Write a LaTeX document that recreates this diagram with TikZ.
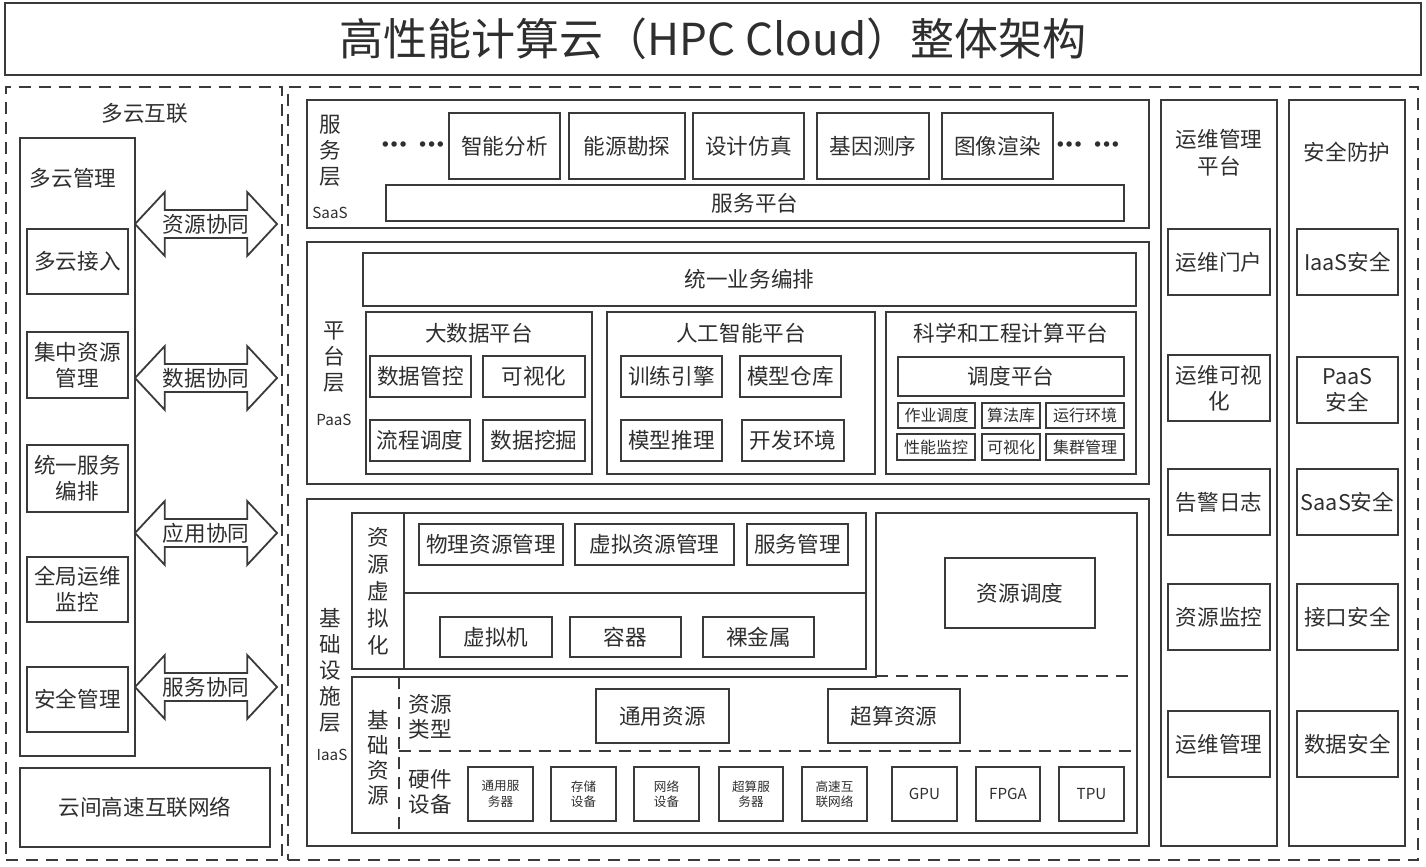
\documentclass[tikz,border=0pt]{standalone}
\usepackage{fontspec}
\setmainfont{Noto Sans CJK SC}
\usetikzlibrary{fit,shapes.arrows}
\definecolor{framecol}{HTML}{3A3A3A}
\definecolor{textcol}{HTML}{2E2E2E}
\newcommand{\tridots}{$\mathord{\bullet}\hspace{0.6pt}\mathord{\bullet}\hspace{0.6pt}\mathord{\bullet}$}

\begin{document}
\begin{tikzpicture}[x=0.5pt, y=-0.5pt,
	every node/.style={text=textcol, font=\fontsize{10.8}{13}\selectfont},
	box/.style={draw=framecol, line width=0.9pt, inner sep=0pt},
	dashbox/.style={draw=framecol, line width=0.9pt, dash pattern=on 6pt off 4pt, inner sep=0pt},
	txt/.style={align=center, inner sep=0pt},
	minitxt/.style={txt, font=\fontsize{8}{9.6}\selectfont},
	hwtxt/.style={txt, font=\fontsize{6.3}{7.6}\selectfont},
	chiptxt/.style={txt, font=\fontsize{7.6}{9}\selectfont},
	coop/.style={double arrow, draw=framecol, line width=0.9pt, inner sep=0pt,
		minimum height=71pt, minimum width=32pt, double arrow head extend=7pt,
		double arrow tip angle=94},
	vtext/.style={align=center, inner sep=0pt},
	tag/.style={inner sep=0pt, font=\fontsize{7.6}{9}\selectfont},
	dotrow/.style={inner sep=0pt, font=\fontsize{5.6}{6}\selectfont}
]
	\useasboundingbox (0,0) rectangle (1426,867);

	% title
	\node[box, fit={(5,3) (1421,75)}, label={[txt, font=\fontsize{22}{26}\selectfont]center:高性能计算云（HPC Cloud）整体架构}] (title) {};

	% multi cloud interconnection
	\node[dashbox, fit={(6,87) (282,860)}] (mc) {};
	\node (mctitle) at (145,113) {多云互联};
	\node[box, fit={(20,138) (135,756)}] (mcmgr) {};
	\node (mcmgrtitle) at (73,178) {多云管理};
	\foreach \ya/\yb/\t [count=\i] in {229/294/多云接入, 332/398/集中资源\\管理, 445/512/统一服务\\编排, 557/622/全局运维\\监控, 667/732/安全管理}
		\node[box, fit={(27,\ya) (128,\yb)}, label={[txt]center:\t}] (mc\i) {};
	\foreach \y/\t [count=\i] in {224/资源协同, 378/数据协同, 533/应用协同, 687/服务协同}
		\node[coop] (coop\i) at (206,\y) {\t};
	\node[box, fit={(20,768) (270,847)}, label={[txt]center:云间高速互联网络}] (link) {};

	% hpc cloud
	\node[dashbox, fit={(288,87) (1418,860)}] (hpc) {};

	% saas
	\node[box, fit={(307,100) (1149,228)}] (saas) {};
	\node[vtext] (saaslbl) at (330,151) {服\\务\\层};
	\node[tag] (saastag) at (330,213) {SaaS};
	\node[dotrow] (dotsl) at (413,145) {\tridots\hspace{6pt}\tridots};
	\foreach \xa/\xb/\t [count=\i] in {449/560/智能分析, 569/685/能源勘探, 693/804/设计仿真, 817/929/基因测序, 942/1053/图像渲染}
		\node[box, fit={(\xa,113) (\xb,179)}, label={[txt]center:\t}] (app\i) {};
	\node[dotrow] (dotsr) at (1088,145) {\tridots\hspace{6pt}\tridots};
	\node[box, fit={(386,185) (1124,221)}, label={[txt]center:服务平台}] (svcplat) {};

	% paas
	\node[box, fit={(307,242) (1149,484)}] (paas) {};
	\node[vtext] (paaslbl) at (334,357) {平\\台\\层};
	\node[tag] (paastag) at (334,420) {PaaS};
	\node[box, fit={(363,253) (1136,306)}, label={[txt]center:统一业务编排}] (orch) {};

	\node[box, fit={(366,312) (592,474)}] (bigdata) {};
	\node (bigdatatitle) at (479,333) {大数据平台};
	\node[box, fit={(370,356) (471,397)}, label={[txt]center:数据管控}] (bd1) {};
	\node[box, fit={(483,356) (585,397)}, label={[txt]center:可视化}] (bd2) {};
	\node[box, fit={(370,420) (470,461)}, label={[txt]center:流程调度}] (bd3) {};
	\node[box, fit={(483,420) (585,461)}, label={[txt]center:数据挖掘}] (bd4) {};

	\node[box, fit={(607,312) (875,474)}] (ai) {};
	\node (aititle) at (741,333) {人工智能平台};
	\node[box, fit={(621,356) (722,397)}, label={[txt]center:训练引擎}] (ai1) {};
	\node[box, fit={(740,356) (841,397)}, label={[txt]center:模型仓库}] (ai2) {};
	\node[box, fit={(621,420) (722,461)}, label={[txt]center:模型推理}] (ai3) {};
	\node[box, fit={(742,420) (844,461)}, label={[txt]center:开发环境}] (ai4) {};

	\node[box, fit={(886,312) (1136,474)}] (sci) {};
	\node (scititle) at (1011,333) {科学和工程计算平台};
	\node[box, fit={(898,357) (1124,396)}, label={[txt]center:调度平台}] (sched) {};
	\foreach \xa/\xb/\t [count=\i] in {898/975/作业调度, 982/1040/算法库, 1046/1124/运行环境}
		\node[box, fit={(\xa,403) (\xb,428)}, label={[minitxt]center:\t}] (scia\i) {};
	\foreach \xa/\xb/\t [count=\i] in {897/975/性能监控, 982/1040/可视化, 1046/1124/集群管理}
		\node[box, fit={(\xa,434) (\xb,460)}, label={[minitxt]center:\t}] (scib\i) {};

	% iaas
	\node[box, fit={(307,499) (1149,846)}] (iaas) {};
	\node[vtext] (iaaslbl) at (330,670) {基\\础\\设\\施\\层};
	\node[tag] (iaastag) at (332,755) {IaaS};

	\node[box, fit={(352,513) (866,669)}] (virt) {};
	\draw[framecol, line width=0.9pt] (404,513) -- (404,669) (404,593) -- (866,593);
	\node[vtext, font=\fontsize{10.8}{13.5}\selectfont] (virtlbl) at (378,591) {资\\源\\虚\\拟\\化};
	\node[box, fit={(419,524) (563,565)}, label={[txt]center:物理资源管理}] (vm1) {};
	\node[box, fit={(575,524) (734,565)}, label={[txt]center:虚拟资源管理}] (vm2) {};
	\node[box, fit={(747,524) (848,565)}, label={[txt]center:服务管理}] (vm3) {};
	\node[box, fit={(440,617) (552,657)}, label={[txt]center:虚拟机}] (vm4) {};
	\node[box, fit={(570,617) (681,657)}, label={[txt]center:容器}] (vm5) {};
	\node[box, fit={(703,617) (814,657)}, label={[txt]center:裸金属}] (vm6) {};

	% resource dispatch and base resources share one outline
	\draw[framecol, line width=0.9pt] (876,677) -- (352,677) -- (352,833) -- (1137,833) -- (1137,513) -- (876,513) -- cycle;
	\draw[framecol, line width=0.9pt, dash pattern=on 6pt off 4pt] (876,676) -- (1137,676);
	\node[box, fit={(945,558) (1095,628)}, label={[txt]center:资源调度}] (dispatch) {};

	\draw[framecol, line width=0.9pt, dash pattern=on 6pt off 4pt] (399,677) -- (399,833) (399,751) -- (1137,751);
	\node[vtext, font=\fontsize{10.8}{12.5}\selectfont] (baselbl) at (378,758) {基\\础\\资\\源};
	\node[vtext, font=\fontsize{10.8}{12.5}\selectfont] (typelbl) at (430,717) {资源\\类型};
	\node[vtext, font=\fontsize{10.8}{12.5}\selectfont] (hwlbl) at (430,792) {硬件\\设备};
	\node[box, fit={(596,689) (729,743)}, label={[txt]center:通用资源}] (res1) {};
	\node[box, fit={(828,689) (960,743)}, label={[txt]center:超算资源}] (res2) {};
	\foreach \xa/\xb/\t [count=\i] in {468/533/通用服\\务器, 551/616/存储\\设备, 634/699/网络\\设备, 719/783/超算服\\务器, 802/867/高速互\\联网络}
		\node[box, fit={(\xa,767) (\xb,821)}, label={[hwtxt]center:\t}] (hw\i) {};
	\foreach \xa/\xb/\t [count=\i] in {892/957/GPU, 976/1040/FPGA, 1059/1124/TPU}
		\node[box, fit={(\xa,767) (\xb,821)}, label={[chiptxt]center:\t}] (chip\i) {};

	% operations
	\node[box, fit={(1161,100) (1277,846)}] (ops) {};
	\node[vtext, font=\fontsize{10.8}{13.5}\selectfont] (opstitle) at (1219,153) {运维管理\\平台};
	\foreach \ya/\yb/\t [count=\i] in {229/295/运维门户, 355/421/运维可视\\化, 469/535/告警日志, 584/650/资源监控, 711/777/运维管理}
		\node[box, fit={(1168,\ya) (1270,\yb)}, label={[txt]center:\t}] (ops\i) {};

	% security
	\node[box, fit={(1289,100) (1405,846)}] (sec) {};
	\node (sectitle) at (1347,152) {安全防护};
	\foreach \ya/\yb/\t [count=\i] in {229/295/IaaS安全, 357/423/PaaS\\安全, 469/535/SaaS安全, 584/650/接口安全, 711/777/数据安全}
		\node[box, fit={(1297,\ya) (1398,\yb)}, label={[txt]center:\t}] (sec\i) {};
\end{tikzpicture}
\end{document}
